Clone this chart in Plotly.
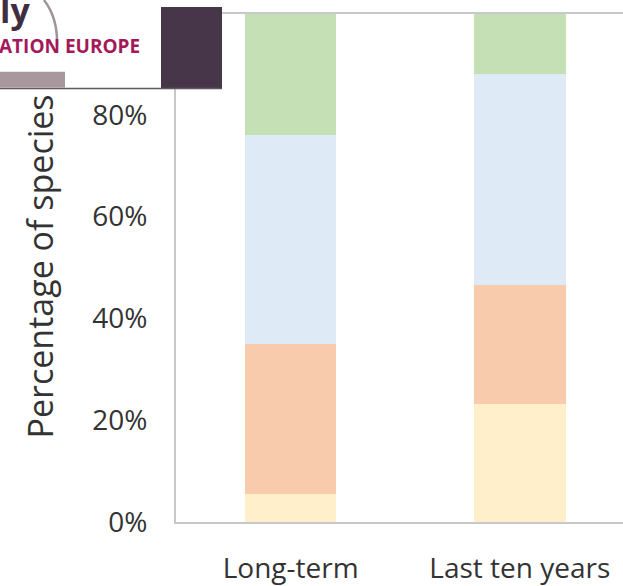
import plotly.graph_objects as go

categories = ["Long-term", "Last ten years"]
series_names = ["Increase", "Stable", "Uncertain", "Decrease"]
increase = [0.055, 0.232]
stable = [0.294, 0.234]
uncertain = [0.412, 0.414]
decrease = [0.239, 0.120]
series_values = [increase, stable, uncertain, decrease]
colors = ["#FFF0CB", "#F8CBAD", "#DEEAF6", "#C5E0B4"]
y_ticks = [0, 0.2, 0.4, 0.6, 0.8, 1.0]
y_tick_labels = ["0%", "20%", "40%", "60%", "80%", "100%"]

FONT = "Open Sans"
W, H = 623, 586
L, R, T, B = 176, 0, 13, 61
pw = W - L - R
ph = H - T - B

def px(x):
    return (x - L) / pw

def py(y):
    return (H - B - y) / ph

fig = go.Figure()
for name, vals, col in zip(series_names, series_values, colors):
    fig.add_trace(go.Bar(x=categories, y=vals, name=name, marker=dict(color=col, line=dict(width=0))))

shapes = [
    # top frame line
    dict(type="line", xref="paper", yref="paper", x0=px(222), x1=1, y0=1, y1=1,
         line=dict(color="#C8C8C8", width=2)),
    # logo pieces
    dict(type="rect", xref="paper", yref="paper", x0=px(161), x1=px(222), y0=py(7), y1=py(89),
         fillcolor="#47364A", line=dict(width=0), layer="above"),
    dict(type="rect", xref="paper", yref="paper", x0=px(0), x1=px(65), y0=py(72), y1=py(88),
         fillcolor="#A8979C", line=dict(width=0), layer="above"),
    dict(type="line", xref="paper", yref="paper", x0=px(0), x1=px(222), y0=py(89), y1=py(89),
         line=dict(color="#5A5A5A", width=1.5), layer="above"),
    dict(type="path", xref="paper", yref="paper",
         path=f"M {px(44)} {py(0)} Q {px(58)} {py(18)} {px(57)} {py(46)}",
         line=dict(color="#9E9498", width=2.5), layer="above"),
]

annotations = [
    dict(text="<b>ly</b>", xref="paper", yref="paper", x=px(-2), y=py(35), xanchor="left", yanchor="bottom",
         showarrow=False, font=dict(family=FONT, size=34, color="#3F2E42")),
    dict(text="<b>ATION EUROPE</b>", xref="paper", yref="paper", x=px(-3), y=py(46), xanchor="left",
         yanchor="middle", showarrow=False, font=dict(family=FONT, size=19, color="#A3195A")),
    dict(text="Percentage of species", xref="paper", yref="paper", x=px(40), y=py(268),
         xanchor="center", yanchor="middle", textangle=-90, showarrow=False,
         font=dict(family=FONT, size=34, color="#333333")),
]

fig.update_layout(
    width=W, height=H,
    margin=dict(l=L, r=R, t=T, b=B, pad=0),
    barmode="stack",
    bargap=0.6,
    showlegend=False,
    plot_bgcolor="white",
    paper_bgcolor="white",
    shapes=shapes,
    annotations=annotations,
    xaxis=dict(range=[-0.5, 1.45], showline=True, linecolor="#C8C8C8", linewidth=2,
               showgrid=False, zeroline=False, ticks="", ticklabelstandoff=20,
               tickfont=dict(family=FONT, size=28, color="#333333")),
    yaxis=dict(range=[0, 1], tickvals=y_ticks, ticktext=y_tick_labels, showline=True,
               linecolor="#C8C8C8", linewidth=2, showgrid=False, zeroline=False, ticks="",
               ticklabelstandoff=21, tickfont=dict(family=FONT, size=28, color="#333333")),
)

fig.write_html("out.html")
